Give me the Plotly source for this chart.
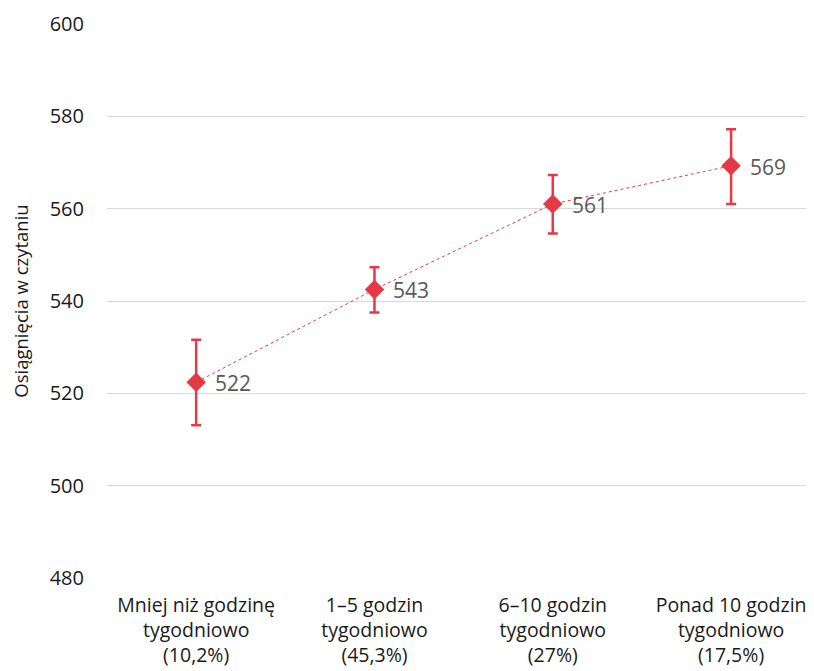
import plotly.graph_objects as go

categories = ["Mniej niż godzinę<br>tygodniowo<br>(10,2%)",
              "1–5 godzin<br>tygodniowo<br>(45,3%)",
              "6–10 godzin<br>tygodniowo<br>(27%)",
              "Ponad 10 godzin<br>tygodniowo<br>(17,5%)"]
means = [522.4, 542.5, 561.0, 569.3]
labels = ["522", "543", "561", "569"]
err_plus = [9.2, 4.8, 6.3, 7.9]
err_minus = [9.3, 5.0, 6.4, 8.3]
y_ticks = [480, 500, 520, 540, 560, 580, 600]

red = "#E63946"
xs = list(range(len(categories)))
fig = go.Figure()
fig.add_trace(go.Scatter(
    x=xs, y=means,
    mode="lines+markers",
    line=dict(color=red, width=1, dash="dot"),
    marker=dict(symbol="diamond", size=15, color=red),
    error_y=dict(type="data", symmetric=False, array=err_plus, arrayminus=err_minus,
                 color=red, thickness=2.5, width=5),
    cliponaxis=False,
))
for x, y, t in zip(xs, means, labels):
    fig.add_annotation(x=x, y=y, text=t, showarrow=False, xanchor="left", yanchor="middle",
                       xshift=17, yshift=-1,
                       font=dict(family="Open Sans", size=21, color="#595959"))
fig.update_layout(
    width=806, height=663,
    margin=dict(l=99, r=0, t=16, b=93),
    plot_bgcolor="white", paper_bgcolor="white",
    showlegend=False,
    font=dict(family="Open Sans", color="#1a1a1a"),
)
fig.update_xaxes(
    tickmode="array", tickvals=xs, ticktext=categories,
    range=[-0.5, 3.465], showgrid=False, zeroline=False, showline=False,
    ticklabelstandoff=13,
    tickfont=dict(family="Open Sans", size=19.5, color="#1a1a1a"),
)
fig.update_yaxes(
    range=[480, 600], tickvals=y_ticks, showgrid=True, gridcolor="#d9d9d9", gridwidth=1,
    zeroline=False, showline=False, ticks="", ticklabelstandoff=22,
    tickfont=dict(family="Open Sans", size=20, color="#1a1a1a"),
    title=dict(text="Osiągnięcia w czytaniu", font=dict(family="Open Sans", size=18.5, color="#1a1a1a"), standoff=24),
)
fig.write_html("out.html")
